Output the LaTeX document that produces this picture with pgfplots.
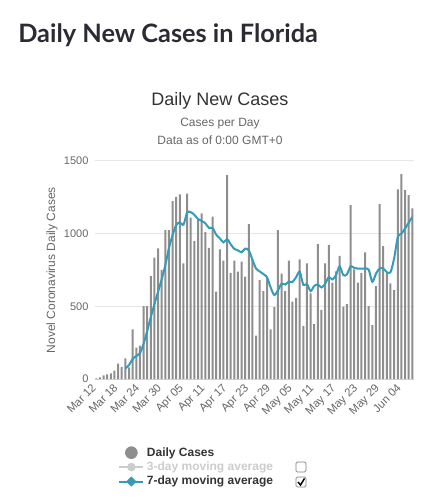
\documentclass[border=0pt]{standalone}
\usepackage{fontspec}
\setmainfont{Liberation Sans}
\newfontfamily\titlefont{Lato}
\usepackage{pgfplots}
\usepackage{pgfplotstable}
\pgfplotsset{compat=1.18}
\definecolor{bargray}{HTML}{8E8E8E}
\definecolor{tealline}{RGB}{52,155,186}
\definecolor{gridgray}{HTML}{E6E6E6}
\definecolor{axisblue}{HTML}{CCD6EB}
\definecolor{textdark}{HTML}{333333}
\definecolor{textgray}{HTML}{666666}
\definecolor{titlecol}{HTML}{2B2B33}
\definecolor{offgray}{HTML}{CCCCCC}

\pgfplotstableread{
day val
0 5
1 11
2 25
3 32
4 39
5 57
6 105
7 83
8 142
9 80
10 342
11 216
12 230
13 502
14 502
15 708
16 835
17 899
18 750
19 1025
20 1025
21 1224
22 1254
23 1270
24 796
25 1275
26 1110
27 949
28 1100
29 1140
30 1013
31 903
32 1117
33 601
34 892
35 814
36 1403
37 731
38 814
39 738
40 807
41 704
42 1066
43 823
44 298
45 681
46 605
47 695
48 342
49 495
50 1025
51 725
52 605
53 814
54 532
55 558
56 823
57 365
58 796
59 589
60 378
61 929
62 475
63 796
64 922
65 663
66 740
67 848
68 498
69 516
70 1197
71 754
72 663
73 731
74 871
75 502
76 371
77 639
78 1204
79 915
80 731
81 658
82 612
83 1305
84 1410
85 1300
86 1266
87 1174
}\daily

\pgfplotstableread{
day val
8 73
9 96
10 138
11 158
12 177
13 241
14 330
15 425
16 515
17 600
18 686
19 784
20 900
21 991
22 1059
23 1078
24 1062
25 1145
26 1148
27 1130
28 1100
29 1088
30 1072
31 1040
32 1040
33 993
34 968
35 940
36 962
37 927
38 895
39 885
40 872
41 897
42 885
43 820
44 760
45 740
46 722
47 700
48 630
49 578
50 610
51 655
52 650
53 670
54 668
55 700
56 738
57 648
58 653
59 605
60 640
61 650
62 630
63 655
64 700
65 685
66 715
67 775
68 715
69 720
70 775
71 765
72 760
73 760
74 760
75 752
76 668
77 725
78 760
79 760
80 735
81 735
82 830
83 975
84 1000
85 1035
86 1075
87 1115
}\ma

\begin{document}
\begin{tikzpicture}
\path[use as bounding box] (0pt,0pt) rectangle (330pt,375pt);
\begin{axis}[
  at={(70.875pt,90.75pt)}, anchor=south west,
  scale only axis, width=239.7pt, height=163.5pt,
  xmin=-0.5, xmax=87.5, ymin=0, ymax=1500,
  xtick={0,6,...,84},
  xticklabels={Mar 12,Mar 18,Mar 24,Mar 30,Apr 05,Apr 11,Apr 17,Apr 23,Apr 29,May 05,May 11,May 17,May 23,May 29,Jun 04},
  ytick={0,500,1000,1500},
  yticklabels={0,500,1000,1500},
  ymajorgrids, grid style={draw=gridgray, line width=0.75pt},
  axis x line*=bottom, axis y line*=left,
  y axis line style={draw=none},
  x axis line style={draw=axisblue, line width=0.75pt, -},
  major tick length=0pt,
  tick label style={font=\fontsize{8.25}{10}\selectfont, text=textgray},
  x tick label style={font=\fontsize{8.5}{10}\selectfont, xshift=-4pt, yshift=-3pt, rotate=45, anchor=north east, inner sep=0pt},
  y tick label style={xshift=-1pt},
  legend style={at={(0.074,-0.300)}, anchor=north west, draw=none, fill=none,
    font=\bfseries\fontsize{9}{11}\selectfont, text=textdark,
    cells={anchor=west}, row sep=-1.2pt, inner sep=0pt},
]
\addplot[ybar, bar width=1.5pt, fill=bargray, draw=none, forget plot] table[x=day,y=val]{\daily};
\addplot[tealline, line width=1.5pt, smooth, no marks, forget plot] table[x=day,y=val]{\ma};
\addlegendimage{legend image code/.code={\fill[bargray] (0.315cm,0cm) circle (4.5pt);}}
\addlegendentry{Daily Cases}
\addlegendimage{legend image code/.code={\draw[offgray, line width=1.5pt] (0cm,0cm) -- (0.63cm,0cm); \fill[offgray] (0.315cm,0cm) circle (3pt);}}
\addlegendentry{\textcolor{offgray}{3-day moving average}}
\addlegendimage{legend image code/.code={\draw[tealline, line width=1.5pt] (0cm,0cm) -- (0.63cm,0cm); \fill[tealline] (0.315cm,3.5pt) -- (0.315cm+3.5pt,0pt) -- (0.315cm,-3.5pt) -- (0.315cm-3.5pt,0pt) -- cycle;}}
\addlegendentry{7-day moving average}
\end{axis}
\begin{scope}[shift={(0pt,375pt)}, x=0.75pt, y=-0.75pt]
\node[anchor=west, inner sep=0pt, text=titlecol, font=\titlefont\bfseries\fontsize{19}{23}\selectfont] at (18,35) {Daily New Cases in Florida};
\node[inner sep=0pt, text=textdark, font=\fontsize{13.5}{16}\selectfont] at (220,101) {Daily New Cases};
\node[inner sep=0pt, text=textgray, font=\fontsize{9}{11}\selectfont] at (220,124) {Cases per Day};
\node[inner sep=0pt, text=textgray, font=\fontsize{9}{11}\selectfont] at (220,140) {Data as of 0:00 GMT+0};
\node[inner sep=0pt, rotate=90, text=textgray, font=\fontsize{9}{11}\selectfont] at (52,270) {Novel Coronavirus Daily Cases};
\draw[draw=gray, fill=white, line width=0.6pt, rounded corners=1pt] (296,462) rectangle (306,472);
\draw[draw=gray, fill=white, line width=0.6pt, rounded corners=1pt] (296,477) rectangle (306,487);
\draw[black, line width=1.1pt] (298,482) -- (300.5,485) -- (304.5,478.5);
\end{scope}
\end{tikzpicture}
\end{document}
